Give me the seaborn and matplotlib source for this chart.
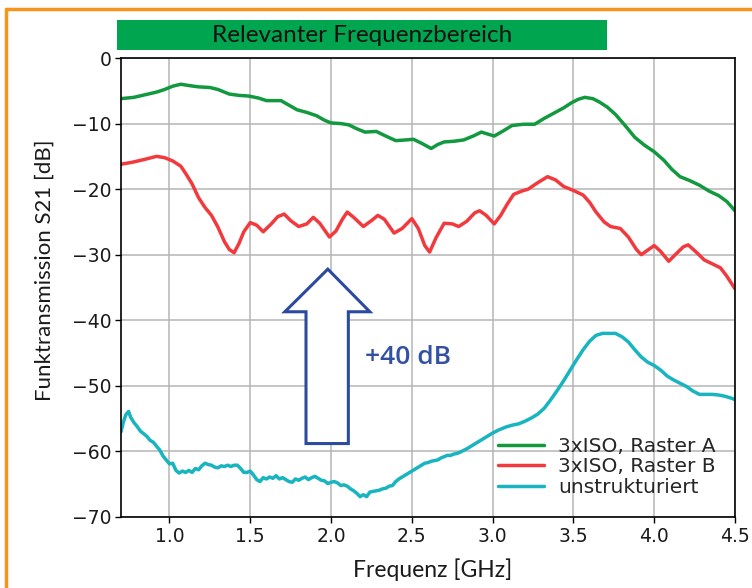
import numpy as np
import pandas as pd
import seaborn as sns
import matplotlib
matplotlib.use("Agg")
import matplotlib.pyplot as plt
from matplotlib.patches import Polygon, Rectangle
from matplotlib.lines import Line2D

# ---------------- data ----------------
green_f = [0.70, 0.78, 0.85, 0.92, 0.97, 1.02, 1.07, 1.12, 1.18, 1.25, 1.30, 1.37, 1.43, 1.49, 1.55,
           1.60, 1.69, 1.74, 1.79, 1.85, 1.91, 1.96, 2.00, 2.06, 2.11, 2.16, 2.21, 2.28, 2.33, 2.40,
           2.46, 2.51, 2.56, 2.62, 2.66, 2.70, 2.76, 2.82, 2.88, 2.93, 2.97, 3.01, 3.06, 3.12, 3.19,
           3.26, 3.32, 3.38, 3.44, 3.49, 3.53, 3.57, 3.62, 3.66, 3.71, 3.76, 3.82, 3.88, 3.94, 4.00,
           4.06, 4.11, 4.16, 4.22, 4.28, 4.34, 4.40, 4.45, 4.50]
green_db = [-6.2, -6.0, -5.6, -5.2, -4.8, -4.3, -4.0, -4.2, -4.4, -4.5, -4.8, -5.5, -5.7, -5.8, -6.1,
            -6.5, -6.5, -7.2, -7.9, -8.3, -8.8, -9.5, -9.9, -10.0, -10.2, -10.8, -11.3, -11.2, -11.8, -12.6,
            -12.5, -12.4, -13.0, -13.8, -13.2, -12.8, -12.7, -12.5, -11.9, -11.3, -11.6, -11.9, -11.2, -10.3, -10.1,
            -10.1, -9.2, -8.4, -7.6, -6.8, -6.3, -6.0, -6.2, -6.7, -7.5, -8.6, -10.3, -12.1, -13.3, -14.3,
            -15.6, -17.0, -18.1, -18.7, -19.4, -20.3, -21.0, -21.9, -23.3]

red_f = [0.70, 0.77, 0.84, 0.92, 0.97, 1.02, 1.07, 1.10, 1.14, 1.18, 1.22, 1.26, 1.30, 1.34, 1.37,
         1.40, 1.43, 1.46, 1.50, 1.54, 1.58, 1.63, 1.67, 1.71, 1.75, 1.80, 1.85, 1.89, 1.93, 1.99,
         2.03, 2.07, 2.10, 2.14, 2.20, 2.25, 2.29, 2.33, 2.39, 2.44, 2.50, 2.54, 2.58, 2.61, 2.65,
         2.70, 2.75, 2.79, 2.84, 2.89, 2.92, 2.96, 3.01, 3.05, 3.09, 3.13, 3.18, 3.22, 3.28, 3.34,
         3.39, 3.44, 3.50, 3.56, 3.60, 3.64, 3.69, 3.73, 3.79, 3.84, 3.89, 3.92, 3.96, 4.00, 4.04,
         4.09, 4.13, 4.18, 4.21, 4.26, 4.31, 4.36, 4.41, 4.45, 4.50]
red_db = [-16.2, -15.9, -15.5, -15.0, -15.2, -15.7, -16.5, -17.6, -19.2, -21.3, -22.8, -24.0, -25.8, -28.0, -29.2,
          -29.7, -28.3, -26.5, -25.1, -25.5, -26.5, -25.3, -24.2, -23.8, -24.8, -25.7, -25.3, -24.3, -25.2, -27.3,
          -26.4, -24.6, -23.5, -24.3, -25.7, -24.8, -24.0, -24.6, -26.7, -26.0, -24.5, -26.0, -28.6, -29.6, -27.4,
          -25.2, -25.3, -25.7, -24.9, -23.6, -23.3, -24.0, -25.3, -24.0, -22.3, -20.8, -20.3, -20.0, -19.0, -18.1,
          -18.6, -19.6, -20.2, -20.9, -22.0, -23.5, -25.0, -25.7, -26.0, -27.3, -29.2, -30.0, -29.3, -28.6, -29.5,
          -31.0, -30.0, -28.8, -28.5, -29.6, -30.8, -31.4, -32.0, -33.3, -35.2]

cyan_f = [0.700, 0.715, 0.730, 0.747, 0.76, 0.78, 0.80, 0.82, 0.84, 0.86, 0.88, 0.90, 0.92, 0.94, 0.96,
          0.98, 1.00, 1.02, 1.04, 1.06, 1.08, 1.10, 1.12, 1.14, 1.16, 1.18, 1.20, 1.22, 1.24, 1.26,
          1.28, 1.30, 1.32, 1.34, 1.36, 1.38, 1.40, 1.42, 1.44, 1.46, 1.48, 1.50, 1.52, 1.54, 1.56,
          1.58, 1.60, 1.62, 1.64, 1.66, 1.68, 1.70, 1.72, 1.74, 1.76, 1.78, 1.80, 1.82, 1.84, 1.86,
          1.88, 1.90, 1.92, 1.94, 1.96, 1.98, 2.00, 2.02, 2.04, 2.06, 2.08, 2.10, 2.12, 2.14, 2.16,
          2.18, 2.20, 2.22, 2.24, 2.26, 2.28, 2.30, 2.32, 2.34, 2.36, 2.38, 2.40, 2.42, 2.44, 2.46,
          2.48, 2.50, 2.52, 2.54, 2.56, 2.58, 2.60, 2.62, 2.64, 2.66, 2.68, 2.70, 2.72, 2.74, 2.76,
          2.78, 2.80, 2.84, 2.88, 2.92, 2.96, 3.00, 3.04, 3.08, 3.12, 3.16, 3.20, 3.24, 3.28, 3.32,
          3.36, 3.40, 3.44, 3.48, 3.52, 3.56, 3.60, 3.64, 3.68, 3.72, 3.76, 3.80, 3.84, 3.88, 3.92,
          3.96, 4.00, 4.04, 4.08, 4.12, 4.16, 4.20, 4.24, 4.28, 4.32, 4.36, 4.40, 4.44, 4.48, 4.50]
cyan_db = [-57.0, -55.5, -54.4, -53.9, -54.8, -55.6, -56.2, -56.9, -57.3, -57.7, -58.3, -58.6, -59.2, -59.8, -60.7,
           -61.3, -61.9, -61.8, -62.9, -63.3, -63.0, -63.2, -62.9, -63.2, -62.6, -62.8, -62.2, -61.8, -62.0, -62.1,
           -62.4, -62.5, -62.2, -62.3, -62.1, -62.3, -62.1, -62.1, -62.6, -63.2, -63.2, -63.0, -63.6, -64.3, -64.6,
           -64.0, -64.2, -63.9, -64.1, -63.7, -64.2, -64.0, -64.3, -64.6, -64.7, -64.2, -64.4, -64.1, -63.9, -64.3,
           -64.0, -63.8, -64.1, -64.4, -64.5, -64.9, -64.7, -64.6, -64.8, -65.2, -65.1, -65.3, -65.7, -66.0, -66.4,
           -66.9, -66.6, -66.9, -66.2, -66.1, -66.0, -65.9, -65.7, -65.6, -65.3, -65.2, -64.6, -64.2, -63.9, -63.6,
           -63.3, -63.0, -62.7, -62.4, -62.1, -61.8, -61.7, -61.5, -61.4, -61.3, -61.0, -60.8, -60.6, -60.6, -60.4,
           -60.3, -60.1, -59.6, -59.0, -58.4, -57.8, -57.2, -56.7, -56.3, -56.0, -55.8, -55.4, -54.9, -54.3, -53.4,
           -52.1, -50.7, -49.2, -47.6, -46.0, -44.5, -43.2, -42.3, -42.0, -42.0, -42.0, -42.5, -43.3, -44.5, -45.6,
           -46.4, -46.9, -47.6, -48.5, -49.1, -49.6, -50.1, -50.8, -51.3, -51.3, -51.3, -51.4, -51.6, -51.9, -52.1]

series_names = ["3xISO, Raster A", "3xISO, Raster B", "unstrukturiert"]
series_colors = ["#12993f", "#f23a3e", "#18b4bf"]
x_ticks = [1.0, 1.5, 2.0, 2.5, 3.0, 3.5, 4.0, 4.5]
y_ticks = [0, -10, -20, -30, -40, -50, -60, -70]

df = pd.concat([
    pd.DataFrame({"f": green_f, "db": green_db, "s": series_names[0]}),
    pd.DataFrame({"f": red_f, "db": red_db, "s": series_names[1]}),
    pd.DataFrame({"f": cyan_f, "db": cyan_db, "s": series_names[2]}),
], ignore_index=True)

# ---------------- style ----------------
sns.set_theme(style="whitegrid")
plt.rcParams["font.family"] = ["DejaVu Sans"]

fig = plt.figure(figsize=(7.52, 5.88), dpi=100)
ax = fig.add_axes([121/752, 1 - 517/588, (735-121)/752, (517-58)/588])

sns.lineplot(data=df, x="f", y="db", hue="s", palette=dict(zip(series_names, series_colors)),
             linewidth=2.5, ax=ax, sort=False, estimator=None, legend=False)

ax.set_xlim(0.7, 4.5)
ax.set_ylim(-70, 0)
ax.set_xticks(x_ticks)
ax.set_yticks(y_ticks)
ax.set_xticklabels([f"{v:.1f}" for v in x_ticks], fontsize=13.5)
ax.set_yticklabels([f"{v}".replace("-", "\u2212") for v in y_ticks], fontsize=13.5)
ax.grid(True, color="#b5b5b5", linewidth=1.1)
for sp in ax.spines.values():
    sp.set_color("black")
    sp.set_linewidth(1.2)
ax.tick_params(axis="both", which="both", length=4, width=1, color="black", direction="out",
               bottom=True, left=True, pad=3, labelcolor="#1a1a1a")
ax.set_facecolor("white")

ax.set_xlabel("Frequenz [GHz]", fontsize=16.5, family=["Lato", "DejaVu Sans"], color="#1a1a1a")
ax.set_ylabel("Funktransmission S21 [dB]", fontsize=16, family=["Lato", "DejaVu Sans"], color="#1a1a1a")
ax.xaxis.set_label_coords((433 - 121) / 614, (517 - 570) / 459)
ax.yaxis.set_label_coords((45 - 121) / 614, (517 - 270) / 459)
ax.xaxis.label.set_va("center")
ax.yaxis.label.set_va("center")

# legend
handles = [Line2D([0], [0], color=c, lw=2.5) for c in series_colors]
ax.legend(handles, series_names, loc="center left", bbox_to_anchor=((490 - 121) / 614, (517 - 467) / 459),
          frameon=False, fontsize=14.5, handlelength=2.3, labelspacing=0.08, borderaxespad=0.0,
          handletextpad=0.7, borderpad=0.4)

# banner
ax.add_patch(Rectangle((0.675, 1.2), 3.71 - 0.675, 4.6, facecolor="#00a550", edgecolor="none",
                       clip_on=False, zorder=5))
ax.text((0.675 + 3.71) / 2, 3.5, "Relevanter Frequenzbereich", ha="center", va="center",
        fontsize=17.5, family=["Lato", "DejaVu Sans"], color="#111111", clip_on=False, zorder=6)

# hollow arrow
arrow_pts = [(1.98, -32.2), (1.714, -38.7), (1.845, -38.7), (1.845, -58.8), (2.107, -58.8),
             (2.107, -38.7), (2.24, -38.7)]
ax.add_patch(Polygon(arrow_pts, closed=True, facecolor="white", edgecolor="#2c4b9f", lw=2.2, zorder=4))
ax.text(2.211, -45.6, "+40 dB", ha="left", va="center", fontsize=19, family=["Open Sans", "DejaVu Sans"],
        fontweight="semibold", color="#3350a3", zorder=6)

# orange frame
fig.add_artist(Line2D([6/752, 6/752], [0, 1 - 9/588], color="#f7941d", lw=2.5, transform=fig.transFigure))
fig.add_artist(Line2D([6/752, 1], [1 - 9/588, 1 - 9/588], color="#f7941d", lw=2.5, transform=fig.transFigure))

fig.savefig("out.png", dpi=100, facecolor="white")
